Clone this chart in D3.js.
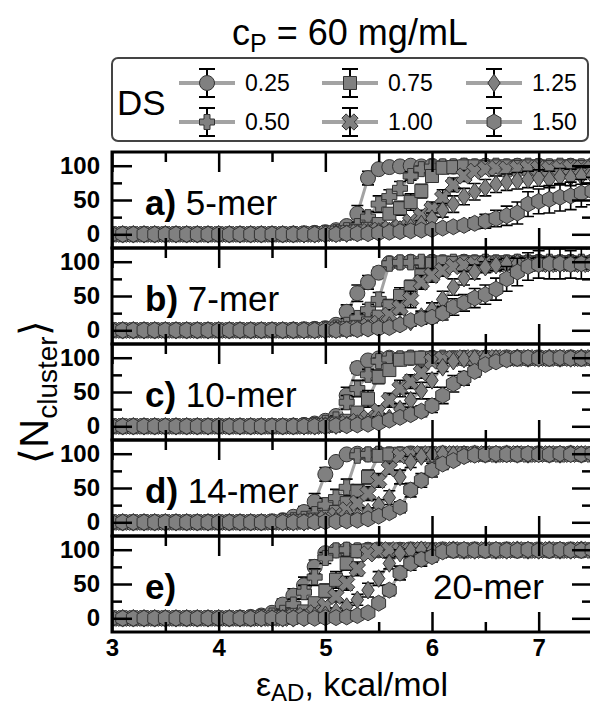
<!DOCTYPE html>
<html><head><meta charset="utf-8">
<script src="https://cdn.jsdelivr.net/npm/d3@7"></script>
<style>body{margin:0;background:#fff}svg{display:block}</style>
</head><body>
<svg id="chart" width="590" height="708"></svg>
<script>
// interaction strength grid (kcal/mol)
const epsAD = [3.0,3.1,3.2,3.3,3.4,3.5,3.6,3.7,3.8,3.9,
               4.0,4.1,4.2,4.3,4.4,4.5,4.6,4.7,4.8,4.9,
               5.0,5.1,5.2,5.3,5.4,5.5,5.6,5.7,5.8,5.9,
               6.0,6.1,6.2,6.3,6.4,6.5,6.6,6.7,6.8,6.9,
               7.0,7.1,7.2,7.3,7.4,7.5];

const dsLabels = ["0.25","0.50","0.75","1.00","1.25","1.50"];
const panelTags = ["a)","b)","c)","d)","e)"];
const panelNames = ["5-mer","7-mer","10-mer","14-mer","20-mer"];
const xTicks = [3,4,5,6,7];
const yTicks = [0,50,100];

// <N_cluster>, one row per DS (0.25 ... 1.50)
const mer5 = [
 [0,0,0,0,0,0,0,0,0,0, 0,0,0,0,0,0,0,1,1,2, 3,6,12,30,82,95,98,99,100,99, 100,99,99,100,99,100,99,99,100,99, 100,99,99,100,99,100],
 [0,0,0,0,0,0,0,0,0,0, 0,0,0,0,0,0,0,0,1,1, 2,3,6,12,25,44,55,67,85,95, 98,99,99,100,99,99,100,99,99,100, 99,99,100,99,99,100],
 [0,0,0,0,0,0,0,0,0,0, 0,0,0,0,0,0,0,0,0,1, 1,2,3,5,8,15,30,38,47,63, 85,97,98,99,99,98,99,99,98,99, 99,98,99,99,98,99],
 [0,0,0,0,0,0,0,0,0,0, 0,0,0,0,0,0,0,0,0,0, 1,1,2,3,4,6,8,10,18,27, 37,53,72,85,92,95,96,95,96,97, 96,95,96,97,96,96],
 [0,0,0,0,0,0,0,0,0,0, 0,0,0,0,0,0,0,0,0,0, 0,1,1,2,3,4,5,7,10,15, 23,35,44,55,62,68,73,76,78,80, 82,80,84,83,85,86],
 [0,0,0,0,0,0,0,0,0,0, 0,0,0,0,0,0,0,0,0,0, 0,0,1,1,1,2,3,4,5,6, 7,9,11,13,16,19,23,27,31,44, 48,51,54,56,60,63]
];
const mer7 = [
 [0,0,0,0,0,0,0,0,0,0, 0,0,0,0,0,0,0,1,1,2, 3,8,27,54,70,84,98,99,100,99, 100,99,99,100,99,100,99,99,100,99, 100,99,99,100,99,100],
 [0,0,0,0,0,0,0,0,0,0, 0,0,0,0,0,0,0,0,1,1, 2,4,8,18,30,45,97,99,99,100, 99,99,100,99,99,100,99,99,100,99, 99,100,99,99,100,99],
 [0,0,0,0,0,0,0,0,0,0, 0,0,0,0,0,0,0,0,0,1, 1,2,3,5,10,20,35,50,63,80, 97,99,98,99,99,98,99,99,98,99, 99,98,99,99,98,99],
 [0,0,0,0,0,0,0,0,0,0, 0,0,0,0,0,0,0,0,0,0, 1,1,2,3,6,10,22,33,45,70, 80,87,93,95,96,97,96,97,97,96, 97,96,97,97,96,97],
 [0,0,0,0,0,0,0,0,0,0, 0,0,0,0,0,0,0,0,0,0, 0,1,1,2,3,5,7,9,12,20, 30,45,63,76,85,92,95,97,98,97, 98,98,97,98,98,97],
 [0,0,0,0,0,0,0,0,0,0, 0,0,0,0,0,0,0,0,0,0, 0,0,1,1,2,3,4,8,14,17, 19,25,34,40,47,52,60,75,85,93, 96,97,97,96,97,97]
];
const mer10 = [
 [0,0,0,0,0,0,0,0,0,0, 0,0,0,0,0,0,0,1,2,4, 8,15,45,85,96,99,100,99,100,99, 100,99,99,100,99,100,99,99,100,99, 100,99,99,100,99,100],
 [0,0,0,0,0,0,0,0,0,0, 0,0,0,0,0,0,0,0,1,2, 5,10,35,55,75,95,98,99,100,99, 99,100,99,99,100,99,99,100,99,99, 100,99,99,100,99,99],
 [0,0,0,0,0,0,0,0,0,0, 0,0,0,0,0,0,0,0,0,1, 2,4,8,20,40,72,82,97,99,100, 99,99,100,99,99,100,99,99,100,99, 99,100,99,99,100,99],
 [0,0,0,0,0,0,0,0,0,0, 0,0,0,0,0,0,0,0,0,0, 1,2,4,7,12,22,38,55,65,78, 95,98,99,100,99,99,100,99,99,100, 99,99,100,99,99,100],
 [0,0,0,0,0,0,0,0,0,0, 0,0,0,0,0,0,0,0,0,0, 1,1,2,4,6,9,12,25,38,52, 67,86,95,98,99,100,99,99,100,99, 99,100,99,99,100,99],
 [0,0,0,0,0,0,0,0,0,0, 0,0,0,0,0,0,0,0,0,0, 0,1,1,2,3,5,9,13,17,22, 30,45,62,70,80,90,94,97,99,100, 99,99,100,99,99,100]
];
const mer14 = [
 [0,0,0,0,0,0,0,0,0,0, 0,0,0,0,0,0,3,8,15,30, 70,88,99,100,99,100,99,99,100,99, 100,99,99,100,99,100,99,99,100,99, 100,99,99,100,99,100],
 [0,0,0,0,0,0,0,0,0,0, 0,0,0,0,0,1,2,3,5,12, 25,36,51,97,99,100,99,99,100,99, 99,100,99,99,100,99,99,100,99,99, 100,99,99,100,99,99],
 [0,0,0,0,0,0,0,0,0,0, 0,0,0,0,0,0,0,1,2,4, 8,15,28,45,66,97,99,100,99,99, 100,99,99,100,99,99,100,99,99,100, 99,99,100,99,99,100],
 [0,0,0,0,0,0,0,0,0,0, 0,0,0,0,0,0,0,0,1,2, 5,10,18,28,42,61,78,97,99,100, 99,99,100,99,99,100,99,99,100,99, 99,100,99,99,100,99],
 [0,0,0,0,0,0,0,0,0,0, 0,0,0,0,0,0,0,0,0,1, 2,3,5,8,15,25,36,66,88,96, 99,100,99,99,100,99,99,100,99,99, 100,99,99,100,99,99],
 [0,0,0,0,0,0,0,0,0,0, 0,0,0,0,0,0,0,0,0,0, 1,1,2,3,5,9,14,22,47,61, 76,85,90,96,98,99,100,99,99,100, 99,99,100,99,99,100]
];
const mer20 = [
 [0,0,0,0,0,0,0,0,0,0, 0,0,1,2,4,8,20,33,48,75, 95,99,100,99,100,99,99,100,99,100, 99,99,100,99,100,99,99,100,99,100, 99,99,100,99,100,99],
 [0,0,0,0,0,0,0,0,0,0, 0,0,0,0,2,4,8,20,38,60, 88,99,100,99,99,100,99,99,100,99, 99,100,99,99,100,99,99,100,99,99, 100,99,99,100,99,99],
 [0,0,0,0,0,0,0,0,0,0, 0,0,0,0,0,0,2,5,10,22, 40,56,80,98,99,100,99,99,100,99, 100,99,99,100,99,99,100,99,99,100, 99,99,100,99,99,100],
 [0,0,0,0,0,0,0,0,0,0, 0,0,0,0,0,0,0,2,4,8, 18,32,51,72,94,99,100,99,99,100, 99,99,100,99,99,100,99,99,100,99, 99,100,99,99,100,99],
 [0,0,0,0,0,0,0,0,0,0, 0,0,0,0,0,0,0,0,1,3, 5,10,17,27,41,58,80,95,99,100, 99,99,100,99,99,100,99,99,100,99, 99,100,99,99,100,99],
 [0,0,0,0,0,0,0,0,0,0, 0,0,0,0,0,0,0,0,0,0, 1,1,2,4,8,22,41,66,80,86, 90,97,99,100,99,99,100,99,99,100, 99,99,100,99,99,100]
];

// standard deviations, same layout
const mer5Err = [
 [1,1,1,1,1,1,1,1,1,1, 1,1,1,1,1,1,1,1,1,1, 2,4,6,12,10,5,3,2,2,2, 2,2,2,2,2,2,2,2,2,2, 2,2,2,2,2,2],
 [1,1,1,1,1,1,1,1,1,1, 1,1,1,1,1,1,1,1,1,1, 1,2,3,5,8,12,10,10,6,4, 2,2,2,2,2,2,2,2,2,2, 2,2,2,2,2,2],
 [1,1,1,1,1,1,1,1,1,1, 1,1,1,1,1,1,1,1,1,1, 1,1,2,3,4,5,8,10,12,10, 6,4,3,3,3,3,3,3,3,3, 3,3,3,3,3,3],
 [1,1,1,1,1,1,1,1,1,1, 1,1,1,1,1,1,1,1,1,1, 1,1,1,2,2,3,4,5,6,8, 10,12,10,8,6,5,5,5,5,5, 5,5,5,5,5,5],
 [1,1,1,1,1,1,1,1,1,1, 1,1,1,1,1,1,1,1,1,1, 1,1,1,1,2,2,3,3,4,5, 8,10,12,12,12,12,12,12,12,12, 12,12,12,12,12,12],
 [1,1,1,1,1,1,1,1,1,1, 1,1,1,1,1,1,1,1,1,1, 1,1,1,1,1,1,2,2,3,3, 4,5,6,7,8,10,12,14,16,18, 18,20,20,20,20,20]
];
const mer7Err = [
 [1,1,1,1,1,1,1,1,1,1, 1,1,1,1,1,1,1,1,1,1, 2,4,10,12,10,8,3,2,2,2, 2,2,2,2,2,2,2,2,2,2, 2,2,2,2,2,2],
 [1,1,1,1,1,1,1,1,1,1, 1,1,1,1,1,1,1,1,1,1, 1,2,4,6,8,10,4,2,2,2, 2,2,2,2,2,2,2,2,2,2, 2,2,2,2,2,2],
 [1,1,1,1,1,1,1,1,1,1, 1,1,1,1,1,1,1,1,1,1, 1,1,2,3,5,8,10,12,10,10, 5,3,3,3,3,3,3,3,3,3, 3,3,3,3,3,3],
 [1,1,1,1,1,1,1,1,1,1, 1,1,1,1,1,1,1,1,1,1, 1,1,1,2,3,5,8,10,12,10, 10,8,6,5,5,5,5,5,5,5, 5,5,5,5,5,5],
 [1,1,1,1,1,1,1,1,1,1, 1,1,1,1,1,1,1,1,1,1, 1,1,1,1,2,3,4,5,6,8, 10,12,12,10,10,8,8,8,8,8, 8,8,8,8,8,8],
 [1,1,1,1,1,1,1,1,1,1, 1,1,1,1,1,1,1,1,1,1, 1,1,1,1,1,2,3,4,6,8, 8,10,12,12,14,14,16,18,20,20, 20,22,22,20,22,22]
];
const mer10Err = [
 [1,1,1,1,1,1,1,1,1,1, 1,1,1,1,1,1,1,2,2,3, 4,6,12,8,4,2,2,2,2,2, 2,2,2,2,2,2,2,2,2,2, 2,2,2,2,2,2],
 [1,1,1,1,1,1,1,1,1,1, 1,1,1,1,1,1,1,1,2,2, 3,5,10,12,8,4,2,2,2,2, 2,2,2,2,2,2,2,2,2,2, 2,2,2,2,2,2],
 [1,1,1,1,1,1,1,1,1,1, 1,1,1,1,1,1,1,1,1,1, 2,3,4,8,12,10,8,3,2,2, 2,2,2,2,2,2,2,2,2,2, 2,2,2,2,2,2],
 [1,1,1,1,1,1,1,1,1,1, 1,1,1,1,1,1,1,1,1,1, 1,2,3,4,6,8,10,12,10,8, 4,3,2,2,2,2,2,2,2,2, 2,2,2,2,2,2],
 [1,1,1,1,1,1,1,1,1,1, 1,1,1,1,1,1,1,1,1,1, 1,1,2,3,4,5,6,8,10,12, 10,6,3,2,2,2,2,2,2,2, 2,2,2,2,2,2],
 [1,1,1,1,1,1,1,1,1,1, 1,1,1,1,1,1,1,1,1,1, 1,1,1,2,2,3,4,5,6,8, 10,12,12,10,8,6,4,3,2,2, 2,2,2,2,2,2]
];
const mer14Err = [
 [1,1,1,1,1,1,1,1,1,1, 1,1,1,1,1,1,3,5,8,12, 10,6,2,2,2,2,2,2,2,2, 2,2,2,2,2,2,2,2,2,2, 2,2,2,2,2,2],
 [1,1,1,1,1,1,1,1,1,1, 1,1,1,1,1,2,3,4,6,8, 10,12,12,3,2,2,2,2,2,2, 2,2,2,2,2,2,2,2,2,2, 2,2,2,2,2,2],
 [1,1,1,1,1,1,1,1,1,1, 1,1,1,1,1,1,1,2,2,3, 4,6,8,10,10,3,2,2,2,2, 2,2,2,2,2,2,2,2,2,2, 2,2,2,2,2,2],
 [1,1,1,1,1,1,1,1,1,1, 1,1,1,1,1,1,1,1,2,2, 3,5,6,8,10,10,8,3,2,2, 2,2,2,2,2,2,2,2,2,2, 2,2,2,2,2,2],
 [1,1,1,1,1,1,1,1,1,1, 1,1,1,1,1,1,1,1,1,1, 2,2,3,4,6,8,10,10,8,4, 2,2,2,2,2,2,2,2,2,2, 2,2,2,2,2,2],
 [1,1,1,1,1,1,1,1,1,1, 1,1,1,1,1,1,1,1,1,1, 1,1,2,2,3,4,6,8,10,10, 10,8,6,4,3,2,2,2,2,2, 2,2,2,2,2,2]
];
const mer20Err = [
 [1,1,1,1,1,1,1,1,1,1, 1,1,1,2,3,5,8,10,12,10, 5,2,2,2,2,2,2,2,2,2, 2,2,2,2,2,2,2,2,2,2, 2,2,2,2,2,2],
 [1,1,1,1,1,1,1,1,1,1, 1,1,1,1,2,3,5,8,10,12, 8,2,2,2,2,2,2,2,2,2, 2,2,2,2,2,2,2,2,2,2, 2,2,2,2,2,2],
 [1,1,1,1,1,1,1,1,1,1, 1,1,1,1,1,1,2,3,5,8, 10,12,10,3,2,2,2,2,2,2, 2,2,2,2,2,2,2,2,2,2, 2,2,2,2,2,2],
 [1,1,1,1,1,1,1,1,1,1, 1,1,1,1,1,1,1,2,3,4, 6,8,10,10,5,2,2,2,2,2, 2,2,2,2,2,2,2,2,2,2, 2,2,2,2,2,2],
 [1,1,1,1,1,1,1,1,1,1, 1,1,1,1,1,1,1,1,1,2, 3,5,6,8,10,10,8,5,2,2, 2,2,2,2,2,2,2,2,2,2, 2,2,2,2,2,2],
 [1,1,1,1,1,1,1,1,1,1, 1,1,1,1,1,1,1,1,1,1, 1,1,1,2,3,6,8,10,10,10, 8,4,2,2,2,2,2,2,2,2, 2,2,2,2,2,2]
];

const panelValues = [mer5, mer7, mer10, mer14, mer20];
const panelErrors = [mer5Err, mer7Err, mer10Err, mer14Err, mer20Err];

// ---------- marker shapes ----------
function poly(pts){ return "M" + pts.map(p => p[0].toFixed(2) + "," + p[1].toFixed(2)).join("L") + "Z"; }
function circlePath(r){ return `M${r},0A${r},${r} 0 1,1 ${-r},0A${r},${r} 0 1,1 ${r},0Z`; }
function plusPts(a, t){ return [[-t,-a],[t,-a],[t,-t],[a,-t],[a,t],[t,t],[t,a],[-t,a],[-t,t],[-a,t],[-a,-t],[-t,-t]]; }
function rot45(pts){ const c = Math.SQRT1_2; return pts.map(([px,py]) => [c*(px-py), c*(px+py)]); }
const shapes = [
  () => circlePath(7.5),
  () => poly(plusPts(7.5, 3)),
  () => poly([[-6.5,-6.5],[6.5,-6.5],[6.5,6.5],[-6.5,6.5]]),
  () => poly(rot45(plusPts(8.5, 3))),
  () => poly([[0,-8.8],[6.2,0],[0,8.8],[-6.2,0]]),
  () => { const R = 8; return poly(d3.range(6).map(k => { const a = Math.PI/2 + k*Math.PI/3; return [R*Math.cos(a), -R*Math.sin(a)]; })); }
];

const FONT = "'Liberation Sans', Arial, Helvetica, sans-serif";
const fillGray = "#808080", edge = "#333", lineGray = "#a3a3a3";

const svg = d3.select("#chart");
const left = 112, right = 592;
const panelTop = 152, panelH = 96;
const x = d3.scaleLinear().domain([3, 7.5]).range([left, right]);

// ---------- title ----------
const title = svg.append("text").attr("x", 350).attr("y", 45)
  .attr("text-anchor", "middle").attr("font-family", FONT).attr("font-size", 36);
title.append("tspan").text("c");
title.append("tspan").attr("font-size", 25).attr("dy", 7).text("P");
title.append("tspan").attr("dy", -7).text(" = 60 mg/mL");

// ---------- legend ----------
const leg = svg.append("g");
leg.append("rect").attr("x", 112).attr("y", 58).attr("width", 476).attr("height", 83)
  .attr("rx", 6).attr("fill", "#fff").attr("stroke", "#444").attr("stroke-width", 2);
leg.append("text").attr("x", 117).attr("y", 115).attr("font-family", FONT)
  .attr("font-size", 35).text("DS");
const legCols = [207, 350, 494], legRows = [83, 122];
dsLabels.forEach((lab, i) => {
  const cx = legCols[Math.floor(i / 2)], cy = legRows[i % 2];
  const g = leg.append("g").attr("transform", `translate(${cx},${cy})`);
  g.append("line").attr("x1", -28).attr("x2", 28).attr("stroke", lineGray).attr("stroke-width", 4);
  g.append("path").attr("d", "M0,-14V14M-8,-14H8M-8,14H8").attr("stroke", "#000").attr("stroke-width", 2).attr("fill", "none");
  g.append("path").attr("d", shapes[i]()).attr("fill", fillGray).attr("stroke", edge).attr("stroke-width", 1);
  g.append("text").attr("x", 38).attr("y", 0).attr("dy", "0.36em").attr("font-family", FONT)
    .attr("font-size", 23).text(lab);
});

// ---------- panels ----------
panelValues.forEach((series, p) => {
  const top = panelTop + p * panelH, bottom = top + panelH;
  const y = d3.scaleLinear().domain([-20, 120]).range([bottom, top]);
  const g = svg.append("g");

  const clipId = "clip" + p;
  svg.append("clipPath").attr("id", clipId).append("rect")
    .attr("x", left).attr("y", top).attr("width", right - left).attr("height", panelH);
  const plot = g.append("g").attr("clip-path", `url(#${clipId})`);

  const line = d3.line().x((d, i) => x(epsAD[i])).y(d => y(d));
  series.forEach((vals, s) => {
    const errs = panelErrors[p][s];
    const sg = plot.append("g");
    sg.append("path").attr("d", line(vals)).attr("fill", "none")
      .attr("stroke", lineGray).attr("stroke-width", 3);
    sg.append("g").selectAll("path").data(vals).join("path")
      .attr("d", (d, i) => {
        const cx = x(epsAD[i]), y1 = y(d + errs[i]), y2 = y(d - errs[i]);
        return `M${cx},${y1}V${y2}M${cx-6},${y1}H${cx+6}M${cx-6},${y2}H${cx+6}`;
      })
      .attr("stroke", "#000").attr("stroke-width", 1.6).attr("fill", "none");
    sg.append("g").selectAll("path").data(vals).join("path")
      .attr("transform", (d, i) => `translate(${x(epsAD[i])},${y(d)})`)
      .attr("d", shapes[s]()).attr("fill", fillGray).attr("stroke", edge).attr("stroke-width", 1);
  });

  // axes with inward ticks
  const styleAxis = sel => {
    sel.select(".domain").remove();
    sel.selectAll(".tick line").attr("stroke", "#000").attr("stroke-width", 2.5);
  };
  const minorX = d3.range(3.5, 7.5, 1);
  const minorY = [25, 75];
  g.append("g").attr("transform", `translate(0,${top})`)
    .call(d3.axisTop(x).tickValues(xTicks).tickSize(-20).tickFormat("")).call(styleAxis);
  g.append("g").attr("transform", `translate(0,${top})`)
    .call(d3.axisTop(x).tickValues(minorX).tickSize(-10).tickFormat("")).call(styleAxis);
  const bx = g.append("g").attr("transform", `translate(0,${bottom})`)
    .call(d3.axisBottom(x).tickValues(xTicks).tickSize(-20).tickPadding(7)
      .tickFormat(p === 4 ? d3.format("d") : "")).call(styleAxis);
  bx.selectAll("text").attr("font-family", FONT).attr("font-size", 24).attr("font-weight", "bold").attr("fill", "#000");
  g.append("g").attr("transform", `translate(0,${bottom})`)
    .call(d3.axisBottom(x).tickValues(minorX).tickSize(-10).tickFormat("")).call(styleAxis);

  const ly = g.append("g").attr("transform", `translate(${left},0)`)
    .call(d3.axisLeft(y).tickValues(yTicks).tickSize(-20).tickPadding(12)).call(styleAxis);
  ly.selectAll("text").attr("font-family", FONT).attr("font-size", 24).attr("font-weight", "bold").attr("fill", "#000");
  g.append("g").attr("transform", `translate(${left},0)`)
    .call(d3.axisLeft(y).tickValues(minorY).tickSize(-10).tickFormat("")).call(styleAxis);
  g.append("g").attr("transform", `translate(${right},0)`)
    .call(d3.axisRight(y).tickValues(yTicks).tickSize(-20).tickFormat("")).call(styleAxis);
  g.append("g").attr("transform", `translate(${right},0)`)
    .call(d3.axisRight(y).tickValues(minorY).tickSize(-10).tickFormat("")).call(styleAxis);

  g.append("rect").attr("x", left).attr("y", top).attr("width", right - left).attr("height", panelH)
    .attr("fill", "none").attr("stroke", "#000").attr("stroke-width", 3);

  // panel label
  const t = g.append("text").attr("x", 145).attr("y", bottom - 33)
    .attr("font-family", FONT).attr("font-size", 35);
  t.append("tspan").attr("font-weight", "bold").text(panelTags[p]);
  if (p < 4) t.append("tspan").text(" " + panelNames[p]);
  else g.append("text").attr("x", 433).attr("y", bottom - 33)
    .attr("font-family", FONT).attr("font-size", 35).text(panelNames[p]);
});

// ---------- axis titles ----------
const xt = svg.append("text").attr("x", 352).attr("y", 696).attr("text-anchor", "middle")
  .attr("font-family", FONT).attr("font-size", 34);
xt.append("tspan").text("ε");
xt.append("tspan").attr("font-size", 24).attr("dy", 5).text("AD");
xt.append("tspan").attr("dy", -5).text(", kcal/mol");

const yt = svg.append("text").attr("transform", "translate(48,392) rotate(-90)")
  .attr("text-anchor", "middle").attr("font-family", FONT).attr("font-size", 40);
yt.append("tspan").text("⟨N");
yt.append("tspan").attr("font-size", 28).attr("dy", 9).text("cluster");
yt.append("tspan").attr("dy", -9).text("⟩");
</script>
</body></html>
